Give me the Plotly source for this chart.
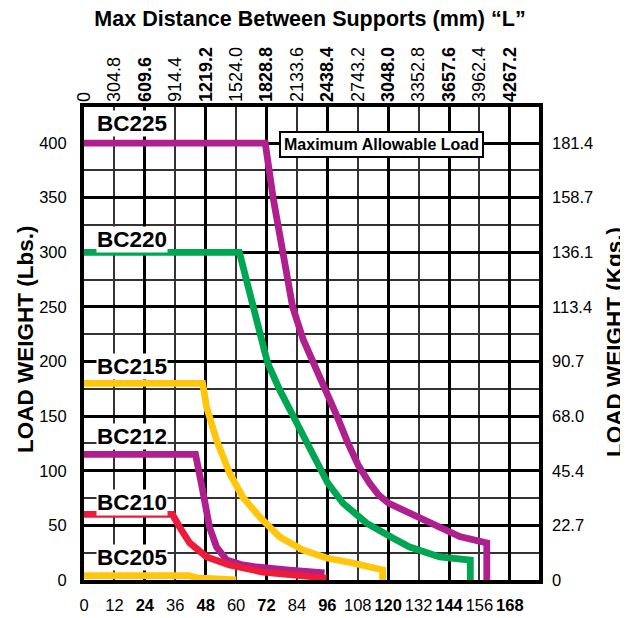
import plotly.graph_objects as go

# ---------------- data ----------------
inch_ticks = [0, 12, 24, 36, 48, 60, 72, 84, 96, 108, 120, 132, 144, 156, 168]
mm_labels = ["0", "304.8", "609.6", "914.4", "1219.2", "1524.0", "1828.8", "2133.6",
             "2438.4", "2743.2", "3048.0", "3352.8", "3657.6", "3962.4", "4267.2"]
lbs_ticks = [0, 50, 100, 150, 200, 250, 300, 350, 400]
lbs_minor = [25, 75, 125, 175, 225, 275, 325, 375]
kg_labels = ["0", "22.7", "45.4", "68.0", "90.7", "113.4", "136.1", "158.7", "181.4"]

bc225_x = [0, 71.5, 74.6, 78.4, 82.3, 86.5, 90.4, 95.2, 99.8, 104, 108.2, 112.7, 116.2, 120, 128.5, 139.2, 148.2, 158.9, 158.9]
bc225_y = [400, 400, 350, 300, 250, 220, 200, 175, 150, 126, 105, 88.5, 78, 70.5, 61.3, 48.8, 39.8, 33.9, 0]

bc220_x = [0, 61.3, 72.4, 77.2, 83.9, 90.2, 96.1, 102.1, 111.5, 121.8, 128.5, 140.3, 152.4, 152.4]
bc220_y = [300, 300, 199, 174, 144, 116, 89, 70.5, 52, 38.4, 30.2, 21.1, 18.3, 0]

bc215_x = [0, 46.8, 48.4, 52.3, 57.4, 62.6, 69.3, 77.2, 86.3, 95.7, 106, 117.8, 117.8]
bc215_y = [180, 180, 158, 128, 98, 76, 57.7, 39.4, 27.5, 20.1, 15.6, 9.2, 0]

bc212_x = [0, 44, 46.8, 49.5, 52.3, 56.3, 62, 68.1, 79.9, 94.9]
bc212_y = [115, 115, 82.4, 48.5, 30.2, 18.3, 14.2, 11.9, 9.2, 6.4]

bc210_x = [0, 34.9, 37.7, 41.7, 48.4, 57.4, 70.5, 83.9, 95.7]
bc210_y = [60, 60, 48.5, 33.9, 21.1, 13.7, 7.3, 4.6, 1.8]

bc205_x = [0, 41.5, 44.5, 60]
bc205_y = [4, 4, 2, 0]

series_names = ["BC205", "BC212", "BC210", "BC215", "BC220", "BC225"]
series_x = [bc205_x, bc212_x, bc210_x, bc215_x, bc220_x, bc225_x]
series_y = [bc205_y, bc212_y, bc210_y, bc215_y, bc220_y, bc225_y]
series_colors = ["#FFC60B", "#B01F8E", "#EE1C3B", "#FFC60B", "#00A651", "#B01F8E"]

label_names = ["BC225", "BC220", "BC215", "BC212", "BC210", "BC205"]
label_y = [418, 312, 195, 131, 71, 21]

FONT = "Liberation Sans, Arial, sans-serif"
THIN = "#333333"
TICK = 16.5

# the page body has an 8px margin: shrink the figure so that it fits the window
OFF = 8
W, H = 628 - OFF, 618 - OFF


def bold_every24(vals, labels):
    out = []
    for v, t in zip(vals, labels):
        out.append(f"<b>{t}</b>" if (v % 24 == 0 and v != 0) else t)
    return out


fig = go.Figure()
for name, xs, ys, c in zip(series_names, series_x, series_y, series_colors):
    fig.add_trace(go.Scatter(x=xs, y=ys, mode="lines", name=name,
                             line=dict(color=c, width=6.8), showlegend=False,
                             hoverinfo="skip"))

# empty helper traces so that the overlaying axes are rendered
fig.add_trace(go.Scatter(x=[None], y=[None], xaxis="x2", yaxis="y", showlegend=False, hoverinfo="skip"))
fig.add_trace(go.Scatter(x=[None], y=[None], xaxis="x3", yaxis="y", showlegend=False, hoverinfo="skip"))
fig.add_trace(go.Scatter(x=[None], y=[None], xaxis="x", yaxis="y2", showlegend=False, hoverinfo="skip"))

XR = [0, 179.5]
YR = [0, 433]

fig.update_layout(
    width=W, height=H,
    margin=dict(l=84 - OFF, r=628 - 539, t=107 - OFF, b=618 - 580, autoexpand=False),
    paper_bgcolor="white", plot_bgcolor="white",
    showlegend=False,
    font=dict(family=FONT, size=TICK, color="black"),
    xaxis=dict(range=XR, tickmode="array", tickvals=inch_ticks,
               ticktext=bold_every24(inch_ticks, [str(v) for v in inch_ticks]),
               showgrid=True, gridcolor=THIN, gridwidth=1.7, tickangle=0,
               showline=True, linecolor="black", linewidth=4, mirror=True,
               zeroline=False, ticks="", ticklabelstandoff=7, automargin=False,
               tickfont=dict(family=FONT, size=TICK)),
    xaxis3=dict(range=XR, overlaying="x", anchor="y", side="bottom",
                tickmode="array", tickvals=[v for v in inch_ticks if v % 24 == 0],
                showticklabels=False, ticks="", showline=False, zeroline=False,
                showgrid=True, gridcolor="black", gridwidth=3, automargin=False),
    xaxis2=dict(range=XR, overlaying="x", anchor="y", side="top",
                tickmode="array", tickvals=inch_ticks,
                ticktext=bold_every24(inch_ticks, mm_labels),
                tickangle=-90, showgrid=False, showline=False, zeroline=False,
                ticks="", ticklabelstandoff=4, automargin=False,
                tickfont=dict(family=FONT, size=18)),
    yaxis=dict(range=YR, tickmode="array", tickvals=lbs_ticks,
               ticktext=[str(v) for v in lbs_ticks],
               showgrid=True, gridcolor="black", gridwidth=3,
               minor=dict(tickmode="array", tickvals=lbs_minor,
                          showgrid=True, gridcolor=THIN, gridwidth=1.7, ticks=""),
               showline=True, linecolor="black", linewidth=4, mirror=True,
               zeroline=False, ticks="", ticklabelstandoff=10, automargin=False,
               tickfont=dict(family=FONT, size=TICK)),
    yaxis2=dict(range=YR, overlaying="y", anchor="x", side="right",
                tickmode="array", tickvals=lbs_ticks, ticktext=kg_labels,
                showgrid=False, showline=False, zeroline=False, ticks="",
                ticklabelstandoff=12, automargin=False,
                tickfont=dict(family=FONT, size=TICK)),
    title=dict(text="<b>Max Distance Between Supports (mm) \u201cL\u201d</b>",
               x=(310 - OFF) / W, xref="container", xanchor="center",
               y=1 - (18 - OFF) / H, yref="container", yanchor="middle",
               font=dict(family=FONT, size=21.5, color="black")),
)

annotations = []
annotations.append(dict(text="<b>LOAD WEIGHT (Lbs.)</b>", xref="paper", yref="paper",
                        x=(25 - 84) / 455, y=(580 - 340) / 473, textangle=-90,
                        showarrow=False, xanchor="center", yanchor="middle",
                        font=dict(family=FONT, size=22.5, color="black")))
annotations.append(dict(text="<b>LOAD WEIGHT (Kgs.)</b>", xref="paper", yref="paper",
                        x=(614 - 84) / 455, y=(580 - 342) / 473, textangle=-90,
                        showarrow=False, xanchor="center", yanchor="middle",
                        font=dict(family=FONT, size=22.5, color="black")))
for nm, ly in zip(label_names, label_y):
    annotations.append(dict(text=f"<b>{nm}</b>", xref="x", yref="y", x=18.8, y=ly,
                            showarrow=False, xanchor="center", yanchor="middle",
                            bgcolor="white", borderpad=0,
                            font=dict(family=FONT, size=22.5, color="black")))
annotations.append(dict(text="<b>Maximum Allowable Load</b>", xref="x", yref="y",
                        x=117.2, y=398.5, showarrow=False, xanchor="center",
                        yanchor="middle", bgcolor="white", bordercolor="black",
                        borderwidth=2, borderpad=3,
                        font=dict(family=FONT, size=16, color="black")))
fig.update_layout(annotations=annotations)

fig.write_html("out.html")
